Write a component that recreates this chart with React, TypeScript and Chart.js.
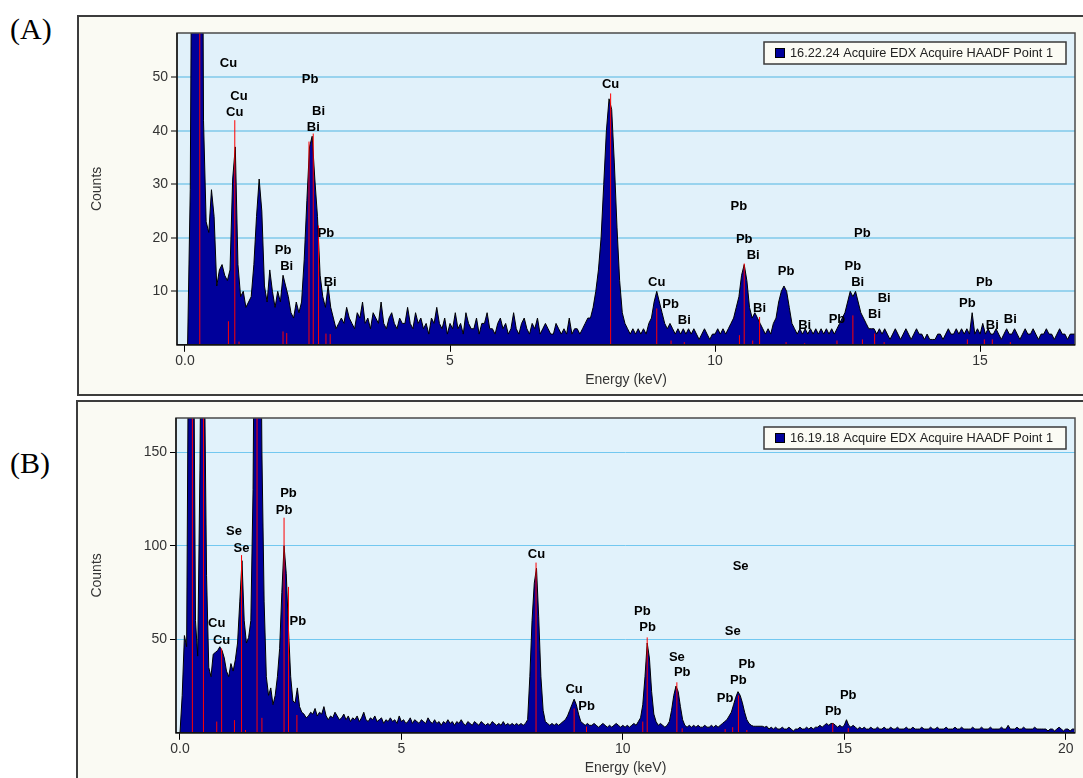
import React, { useEffect, useRef } from 'react';
import { Chart, registerables } from 'chart.js';
Chart.register(...registerables);

// ---------- data ----------
const STEP = 0.05; // keV per channel (channel i is at i*STEP keV)

// Panel A spectrum counts, 0.00 .. 16.80 keV (10 values = 0.5 keV per row)
const A_COUNTS = [
  0, 0, 29, 120, 200, 250, 160, 42, 23, 21,
  29, 24, 11, 14, 15, 13, 12, 14, 31, 37,
  15, 9, 10, 7, 8, 9, 15, 24, 31, 25,
  11, 8, 14, 10, 7, 10, 8, 13, 11, 9,
  6, 5, 8, 6, 8, 16, 27, 37, 39, 31,
  24, 13, 9, 7, 11, 7, 5, 3, 4, 5,
  4, 7, 5, 4, 3, 6, 5, 8, 4, 5,
  3, 6, 5, 4, 8, 4, 3, 5, 6, 4,
  3, 5, 4, 4, 7, 4, 3, 6, 4, 5,
  3, 4, 2, 5, 4, 7, 4, 3, 5, 2,
  4, 3, 6, 3, 4, 2, 6, 4, 3, 3,
  5, 2, 4, 4, 6, 3, 3, 2, 4, 5,
  3, 4, 2, 3, 6, 3, 2, 4, 5, 3,
  2, 4, 3, 5, 2, 3, 4, 3, 2, 2,
  4, 3, 2, 3, 2, 5, 2, 3, 3, 2,
  3, 4, 5, 5, 7, 10, 14, 20, 30, 40,
  46, 44, 34, 22, 12, 6, 4, 3, 2, 3,
  2, 3, 2, 3, 2, 4, 5, 8, 10, 8,
  6, 4, 3, 4, 3, 2, 3, 2, 3, 2,
  3, 2, 3, 2, 1, 2, 3, 2, 1, 2,
  2, 3, 2, 3, 2, 3, 4, 5, 7, 9,
  13, 15, 12, 7, 5, 6, 5, 4, 3, 2,
  3, 2, 4, 5, 8, 10, 11, 10, 7, 4,
  3, 2, 3, 2, 3, 2, 3, 2, 3, 2,
  3, 2, 3, 2, 3, 2, 3, 4, 5, 6,
  8, 10, 9, 10, 8, 6, 5, 4, 3, 3,
  3, 2, 3, 2, 3, 2, 1, 2, 3, 2,
  1, 2, 3, 2, 1, 2, 3, 2, 2, 1,
  2, 1, 1, 1, 2, 2, 1, 2, 3, 2,
  2, 3, 2, 3, 2, 3, 2, 6, 2, 3,
  2, 4, 2, 3, 2, 2, 3, 2, 1, 2,
  3, 2, 2, 3, 2, 1, 2, 3, 2, 2,
  3, 2, 1, 2, 2, 3, 2, 2, 1, 2,
  3, 2, 2, 1, 2, 2, 2,
];

// Panel B spectrum counts, 0.00 .. 20.20 keV
const B_COUNTS = [
  0, 20, 52, 46, 250, 300, 250, 60, 41, 140,
  300, 200, 84, 35, 30, 42, 43, 44, 46, 44,
  40, 33, 30, 37, 33, 39, 48, 70, 92, 60,
  48, 51, 60, 130, 300, 400, 300, 150, 70, 30,
  20, 24, 15, 20, 30, 45, 75, 100, 85, 55,
  30, 17, 16, 24, 14, 11, 10, 8, 9, 11,
  10, 13, 9, 11, 10, 14, 9, 7, 9, 8,
  11, 9, 7, 8, 10, 7, 9, 6, 8, 7,
  9, 6, 8, 11, 7, 6, 8, 7, 9, 6,
  7, 8, 5, 7, 6, 8, 6, 7, 5, 9,
  6, 7, 5, 6, 8, 5, 7, 6, 5, 7,
  6, 5, 8, 6, 5, 7, 5, 6, 4, 6,
  5, 7, 5, 6, 4, 6, 5, 7, 5, 4,
  6, 5, 4, 6, 5, 4, 6, 5, 4, 5,
  4, 6, 5, 4, 5, 4, 6, 4, 5, 4,
  5, 4, 5, 4, 5, 4, 5, 7, 30, 60,
  80, 88, 62, 30, 12, 6, 5, 4, 5, 4,
  5, 4, 5, 6, 7, 9, 12, 15, 18, 15,
  10, 6, 5, 4, 5, 4, 4, 5, 4, 3,
  4, 5, 4, 3, 4, 3, 4, 5, 4, 3,
  4, 3, 4, 3, 4, 5, 4, 6, 8, 15,
  30, 48, 40, 22, 10, 6, 4, 5, 4, 3,
  4, 6, 12, 20, 25, 22, 14, 7, 4, 3,
  4, 3, 4, 3, 4, 3, 3, 4, 3, 3,
  4, 3, 4, 3, 4, 5, 6, 7, 9, 11,
  15, 19, 22, 20, 16, 11, 7, 5, 4, 3.5,
  3.5, 3.5, 3.5, 3.5, 3, 3.5, 2, 3, 2, 3,
  2, 2, 3, 2, 2, 3, 2, 1, 2, 2,
  3, 2, 2, 3, 2, 3, 2, 3, 3, 4,
  3, 4, 5, 4, 5, 5, 4, 3, 4, 3,
  4, 7, 4, 3, 4, 3, 2, 3, 2, 3,
  2, 2, 3, 2, 2, 3, 2, 2, 3, 2,
  2, 3, 2, 2, 3, 2, 2, 2, 3, 2,
  2, 3, 2, 2, 2, 3, 2, 2, 2, 3,
  2, 2, 3, 2, 2, 2, 3, 2, 2, 2,
  3, 2, 2, 3, 2, 2, 2, 2, 3, 2,
  2, 2, 3, 2, 2, 2, 3, 2, 2, 2,
  2, 3, 2, 2, 4, 2, 2, 2, 3, 2,
  2, 3, 2, 2, 2, 2, 3, 2, 2, 2,
  2, 2, 1, 2, 2, 1, 2, 3, 2, 1,
  2, 2, 1, 2, 2,
];

// Element marker lines (energy keV, height counts)
const A_LINE_E = [0.28, 0.82, 0.94, 1.02, 1.85, 1.92, 2.34, 2.42, 2.52, 2.66, 2.74, 8.03, 8.90, 9.17, 9.42, 10.46, 10.55, 10.71, 10.84, 11.34, 11.69, 12.30, 12.60, 12.78, 13.01, 13.19, 14.76, 15.08, 15.23, 15.57];
const A_LINE_H = [300, 4.4, 42, 0.6, 2.5, 2.2, 38, 39.5, 22.3, 2.1, 2, 47, 6.8, 0.8, 0.5, 1.8, 15.2, 0.8, 5.2, 0.5, 0.3, 0.8, 5.5, 1, 2.1, 0.5, 1, 1, 1, 0.5];
const B_LINE_E = [0.28, 0.53, 0.83, 0.94, 1.23, 1.39, 1.48, 1.74, 1.85, 2.35, 2.45, 2.64, 8.04, 8.90, 9.18, 10.45, 10.55, 11.22, 11.34, 12.31, 12.48, 12.61, 12.80, 14.74, 15.09];
const B_LINE_H = [300, 300, 6, 45, 6.8, 95, 1.5, 300, 8, 115, 78, 9.5, 91, 13, 3.3, 6, 51, 27, 2.4, 2, 3, 20, 1.5, 5, 2.5];

// Element labels (text, energy keV, counts)
const A_LAB_TEXT = ['Cu', 'Cu', 'Cu', 'Pb', 'Bi', 'Bi', 'Pb', 'Bi', 'Pb', 'Bi', 'Cu', 'Cu', 'Pb', 'Bi', 'Pb', 'Pb', 'Bi', 'Bi', 'Pb', 'Bi', 'Pb', 'Pb', 'Bi', 'Bi', 'Bi', 'Pb', 'Pb', 'Pb', 'Bi', 'Bi'];
const A_LAB_E = [0.82, 1.02, 0.94, 2.36, 2.52, 2.42, 1.85, 1.92, 2.66, 2.74, 8.03, 8.90, 9.16, 9.42, 10.45, 10.55, 10.72, 10.84, 11.34, 11.69, 12.78, 12.60, 12.69, 13.19, 13.01, 12.30, 15.08, 14.76, 15.23, 15.57];
const A_LAB_C = [52.6, 46.5, 43.5, 49.6, 43.6, 40.6, 17.7, 14.7, 20.8, 11.7, 48.7, 11.6, 7.6, 4.6, 25.8, 19.7, 16.7, 6.8, 13.7, 3.6, 20.8, 14.7, 11.7, 8.7, 5.7, 4.7, 11.7, 7.7, 3.6, 4.7];
const B_LAB_TEXT = ['Pb', 'Pb', 'Se', 'Se', 'Cu', 'Cu', 'Pb', 'Cu', 'Se', 'Pb', 'Pb', 'Se', 'Se', 'Pb', 'Pb', 'Pb', 'Pb', 'Cu', 'Pb', 'Pb', 'Pb'];
const B_LAB_E = [2.45, 2.35, 1.22, 1.39, 0.83, 0.94, 2.66, 8.05, 12.66, 10.44, 10.56, 12.48, 11.22, 11.34, 12.80, 12.61, 12.31, 8.90, 9.18, 15.09, 14.75];
const B_LAB_C = [128, 119, 107.5, 98.7, 58.6, 49.6, 59.4, 95.4, 88.8, 65.1, 56.4, 54, 40.4, 32.1, 36.3, 28.2, 18.4, 23.3, 14, 19.8, 11.3];

// Axes
const A_X_TICKS = [0, 5, 10, 15];
const A_X_TICK_LABELS = ['0.0', '5', '10', '15'];
const A_Y_TICKS = [10, 20, 30, 40, 50];
const B_X_TICKS = [0, 5, 10, 15, 20];
const B_X_TICK_LABELS = ['0.0', '5', '10', '15', '20'];
const B_Y_TICKS = [50, 100, 150];
const A_LEGEND = '16.22.24 Acquire EDX Acquire HAADF Point 1';
const B_LEGEND = '16.19.18 Acquire EDX Acquire HAADF Point 1';
const X_TITLE = 'Energy (keV)';
const Y_TITLE = 'Counts';

const SANS = "'Liberation Sans', Arial, sans-serif";

type Cfg = {
  counts: number[]; lineE: number[]; lineH: number[];
  labText: string[]; labE: number[]; labC: number[];
  xMin: number; xMax: number; yMax: number;
  xTicks: number[]; xTickLabels: string[]; yTicks: number[];
  legend: string; gridColor: string; gridWidth: number; bg: string;
  padTop: number; padRight: number; yWidth: number; xHeight: number;
  xTitlePad: number; yTitlePad: number;
};

function makeChart(canvas: HTMLCanvasElement, c: Cfg) {
  const spectrum = c.counts.map((v, i) => ({ x: Math.round(i * STEP * 100) / 100, y: v }));
  const markers: any[] = [];
  c.lineE.forEach((e, i) => {
    markers.push({ x: e, y: 0 }, { x: e, y: c.lineH[i] }, { x: e, y: null });
  });
  const overlay = {
    id: 'overlay',
    beforeDraw(chart: any) {
      const { ctx, chartArea: a } = chart;
      ctx.save();
      ctx.fillStyle = c.bg;
      ctx.fillRect(a.left, a.top, a.right - a.left, a.bottom - a.top);
      ctx.restore();
    },
    afterDatasetsDraw(chart: any) {
      const { ctx } = chart;
      const xs = chart.scales.x, ys = chart.scales.y;
      ctx.save();
      ctx.font = `bold 13px ${SANS}`;
      ctx.fillStyle = '#000';
      ctx.textAlign = 'center';
      ctx.textBaseline = 'middle';
      c.labText.forEach((t, i) => {
        ctx.fillText(t, xs.getPixelForValue(c.labE[i]), ys.getPixelForValue(c.labC[i]));
      });
      ctx.restore();
    },
    afterDraw(chart: any) {
      const { ctx, chartArea: a } = chart;
      ctx.save();
      // plot frame
      ctx.strokeStyle = '#4a4a4a';
      ctx.lineWidth = 1.5;
      ctx.strokeRect(a.left, a.top, a.right - a.left, a.bottom - a.top);
      ctx.strokeStyle = '#000';
      ctx.lineWidth = 1.2;
      ctx.beginPath();
      ctx.moveTo(a.left, a.top);
      ctx.lineTo(a.left, a.bottom);
      ctx.lineTo(a.right, a.bottom);
      ctx.stroke();
      // legend
      const w = 302, h = 22;
      const lx = a.right - 9 - w, ly = a.top + 9;
      ctx.fillStyle = '#FBFBF4';
      ctx.fillRect(lx, ly, w, h);
      ctx.strokeStyle = '#3a3a3a';
      ctx.lineWidth = 1.5;
      ctx.strokeRect(lx, ly, w, h);
      ctx.fillStyle = '#00009A';
      ctx.fillRect(lx + 11, ly + 6, 10, 10);
      ctx.strokeStyle = '#000';
      ctx.lineWidth = 1;
      ctx.strokeRect(lx + 11.5, ly + 6.5, 9, 9);
      ctx.fillStyle = '#222';
      ctx.font = `13px ${SANS}`;
      ctx.textAlign = 'left';
      ctx.textBaseline = 'middle';
      ctx.fillText(c.legend, lx + 26, ly + h / 2 + 0.5, 263);
      ctx.restore();
    },
  };

  return new Chart(canvas, {
    type: 'line',
    data: {
      datasets: [
        {
          data: markers,
          borderColor: '#ff0000',
          borderWidth: 1,
          pointRadius: 0,
          fill: false,
          spanGaps: false,
          order: 1,
        },
        {
          data: spectrum,
          borderColor: '#000',
          borderWidth: 1,
          backgroundColor: '#00009A',
          pointRadius: 0,
          fill: 'origin',
          tension: 0,
          order: 2,
        },
      ],
    },
    options: {
      responsive: false,
      animation: false,
      events: [],
      layout: { padding: { top: c.padTop, right: c.padRight, left: 0, bottom: 0 } },
      plugins: { legend: { display: false }, tooltip: { enabled: false } },
      scales: {
        x: {
          type: 'linear',
          min: c.xMin,
          max: c.xMax,
          afterBuildTicks: (s: any) => { s.ticks = c.xTicks.map((v) => ({ value: v })); },
          afterFit: (s: any) => { s.height = c.xHeight; },
          grid: { drawOnChartArea: false, drawTicks: true, tickLength: 7, tickColor: '#000', tickWidth: 1 },
          border: { display: false },
          ticks: {
            autoSkip: false,
            maxRotation: 0,
            padding: 1,
            color: '#333',
            font: { family: SANS, size: 14 },
            callback: (v: any) => { const k = c.xTicks.indexOf(v); return k >= 0 ? c.xTickLabels[k] : ''; },
          },
          title: { display: true, text: X_TITLE, color: '#333', font: { family: SANS, size: 14 }, padding: { top: 0, bottom: c.xTitlePad } },
        },
        y: {
          type: 'linear',
          min: 0,
          max: c.yMax,
          afterBuildTicks: (s: any) => { s.ticks = c.yTicks.map((v) => ({ value: v })); },
          afterFit: (s: any) => { s.width = c.yWidth; },
          grid: { color: c.gridColor, lineWidth: c.gridWidth, tickLength: 6, tickColor: '#000', tickWidth: 1 },
          border: { display: false },
          ticks: {
            autoSkip: false,
            padding: 3,
            color: '#333',
            font: { family: SANS, size: 14 },
            callback: (v: any) => String(v),
          },
          title: { display: true, text: Y_TITLE, color: '#333', font: { family: SANS, size: 14 }, padding: { top: c.yTitlePad, bottom: 0 } },
        },
      },
    },
    plugins: [overlay],
  } as any);
}

const CFG_A: Cfg = {
  counts: A_COUNTS, lineE: A_LINE_E, lineH: A_LINE_H,
  labText: A_LAB_TEXT, labE: A_LAB_E, labC: A_LAB_C,
  xMin: -0.15, xMax: 16.79, yMax: 58.3,
  xTicks: A_X_TICKS, xTickLabels: A_X_TICK_LABELS, yTicks: A_Y_TICKS,
  legend: A_LEGEND, gridColor: '#98D3EE', gridWidth: 2, bg: '#E1F1FA',
  padTop: 17, padRight: 8, yWidth: 99, xHeight: 50.2, xTitlePad: 6.5, yTitlePad: 10.6,
};
const CFG_B: Cfg = {
  counts: B_COUNTS, lineE: B_LINE_E, lineH: B_LINE_H,
  labText: B_LAB_TEXT, labE: B_LAB_E, labC: B_LAB_C,
  xMin: -0.09, xMax: 20.21, yMax: 168.3,
  xTicks: B_X_TICKS, xTickLabels: B_X_TICK_LABELS, yTicks: B_Y_TICKS,
  legend: B_LEGEND, gridColor: '#72C8F0', gridWidth: 1, bg: '#E1F2FB',
  padTop: 17, padRight: 8, yWidth: 99, xHeight: 45.2, xTitlePad: 1, yTitlePad: 11.6,
};

export default function App() {
  const refA = useRef<HTMLCanvasElement>(null);
  const refB = useRef<HTMLCanvasElement>(null);
  useEffect(() => {
    const a = makeChart(refA.current!, CFG_A);
    const b = makeChart(refB.current!, CFG_B);
    return () => { a.destroy(); b.destroy(); };
  }, []);
  const frame: React.CSSProperties = {
    position: 'absolute', boxSizing: 'border-box', border: '2px solid #3c3c3c', background: '#FAFAF3',
  };
  const tag: React.CSSProperties = {
    position: 'absolute', left: 10, fontFamily: "'Liberation Serif', 'Times New Roman', serif",
    fontSize: 30, lineHeight: '30px', color: '#000', whiteSpace: 'nowrap',
  };
  return (
    <div style={{ position: 'absolute', left: 0, top: 0, width: 1083, height: 778, overflow: 'hidden', background: '#fff' }}>
      <div style={{ ...frame, left: 77, top: 15, width: 1020, height: 381 }} />
      <div style={{ ...frame, left: 76, top: 400, width: 1020, height: 400 }} />
      <div style={{ ...tag, top: 13.5 }}>(A)</div>
      <div style={{ ...tag, top: 448 }}>(B)</div>
      <canvas ref={refA} width={1005} height={379} style={{ position: 'absolute', left: 78, top: 16, width: 1005, height: 379 }} />
      <canvas ref={refB} width={1006} height={377} style={{ position: 'absolute', left: 77, top: 401, width: 1006, height: 377 }} />
    </div>
  );
}
